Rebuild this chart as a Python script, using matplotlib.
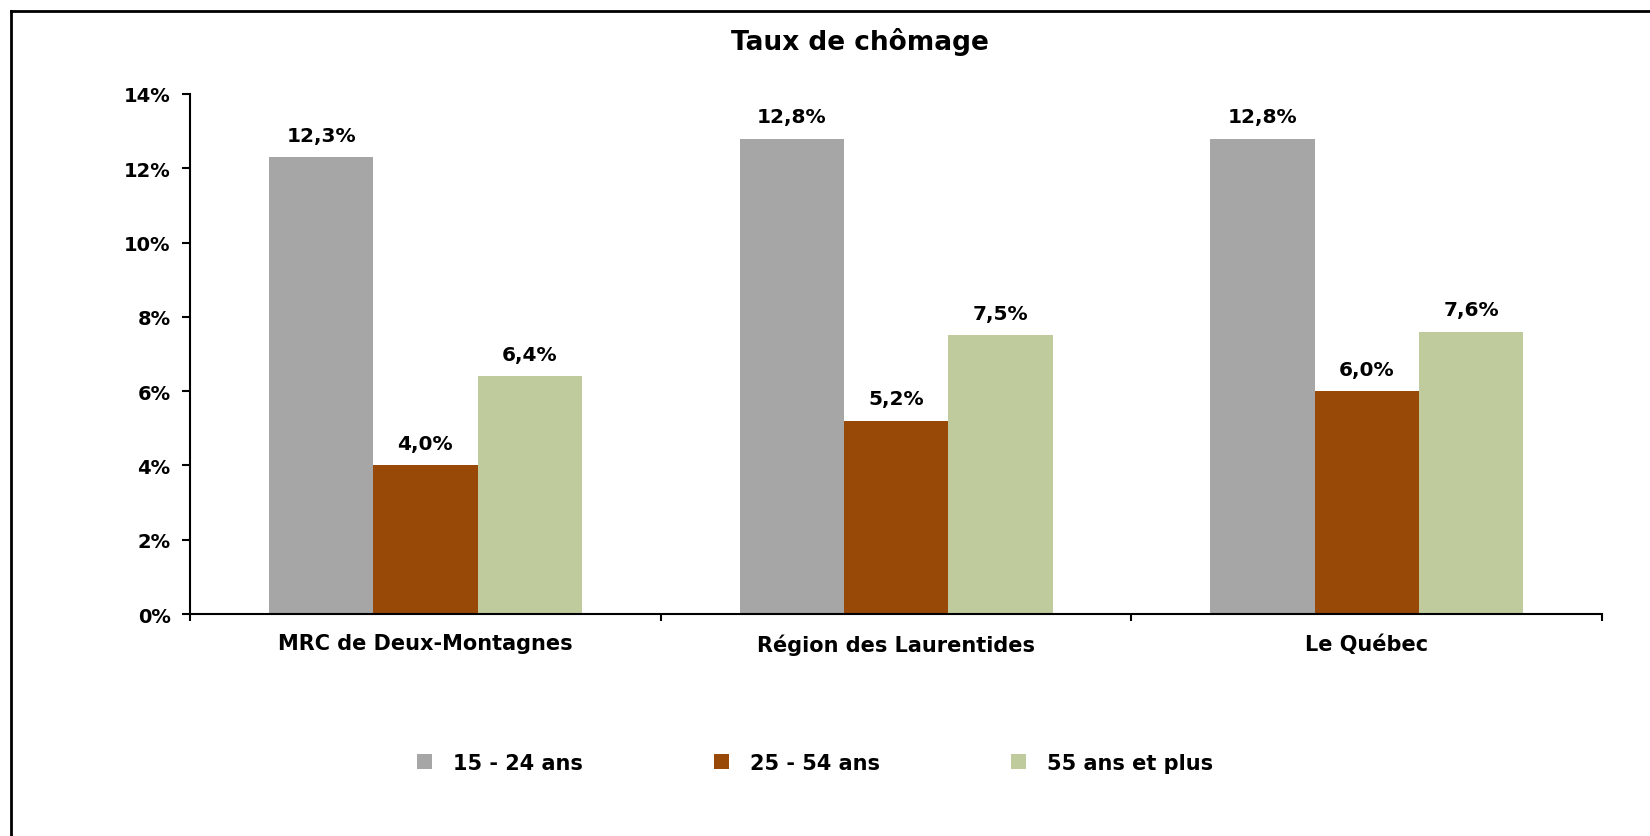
import numpy as np
import matplotlib
matplotlib.use("Agg")
import matplotlib.pyplot as plt
from matplotlib.lines import Line2D
from matplotlib.ticker import FuncFormatter

# Data
categories = ["MRC de Deux-Montagnes", "Région des Laurentides", "Le Québec"]
series_names = ["15 - 24 ans", "25 - 54 ans", "55 ans et plus"]
jeunes = [12.3, 12.8, 12.8]
adultes = [4.0, 5.2, 6.0]
aines = [6.4, 7.5, 7.6]
colors = ["#A6A6A6", "#984807", "#BFCA9D"]

plt.rcParams["font.family"] = ["DejaVu Sans"]
plt.rcParams["font.weight"] = "bold"

fig = plt.figure(figsize=(16.5, 8.37), dpi=100)
ax = fig.add_axes([0.1152, 0.2652, 0.8558, 0.6213])

x = np.arange(len(categories))
w = 0.2216
for i, (vals, name) in enumerate(zip([jeunes, adultes, aines], series_names)):
    bars = ax.bar(x + (i - 1) * w, vals, width=w, color=colors[i], label=name,
                  linewidth=0)
    for b, v in zip(bars, vals):
        ax.annotate(f"{v:.1f}%".replace(".", ","),
                    (b.get_x() + b.get_width() / 2, b.get_height()),
                    xytext=(0, 9), textcoords="offset points",
                    ha="center", va="bottom", fontsize=14.5, fontweight="bold")

ax.set_xlim(-0.5, 2.5)
ax.set_ylim(0, 14)
ax.set_yticks(np.arange(0, 15, 2))
ax.yaxis.set_major_formatter(FuncFormatter(lambda v, p: f"{v:.0f}%"))
ax.set_xticks(np.arange(-0.5, 3, 1))
ax.set_xticklabels([])
ax.set_xticks(x, minor=True)
ax.set_xticklabels(categories, minor=True)
ax.tick_params(axis="x", which="minor", length=0, pad=14, labelsize=15)
ax.tick_params(axis="x", which="major", direction="out", length=5, width=1.5)
ax.tick_params(axis="y", direction="out", length=6, width=1.5, pad=8, labelsize=14)

for s in ["top", "right"]:
    ax.spines[s].set_visible(False)
for s in ["left", "bottom"]:
    ax.spines[s].set_linewidth(1.5)

fig.text(0.521, 0.95, "Taux de chômage", ha="center", va="center",
         fontsize=19, fontweight="bold")

fig.legend(loc="center", bbox_to_anchor=(0.494, 0.087), ncol=3, frameon=False,
           fontsize=15, handlelength=0.72, handleheight=0.72,
           handletextpad=1.0, columnspacing=6.3)

# outer chart frame (top and left edges)
fig.add_artist(Line2D([0.0067, 1.0], [0.9857, 0.9857], transform=fig.transFigure,
                      color="black", linewidth=2))
fig.add_artist(Line2D([0.0067, 0.0067], [0.0, 0.9857], transform=fig.transFigure,
                      color="black", linewidth=2))

fig.savefig("out.png", dpi=100)
